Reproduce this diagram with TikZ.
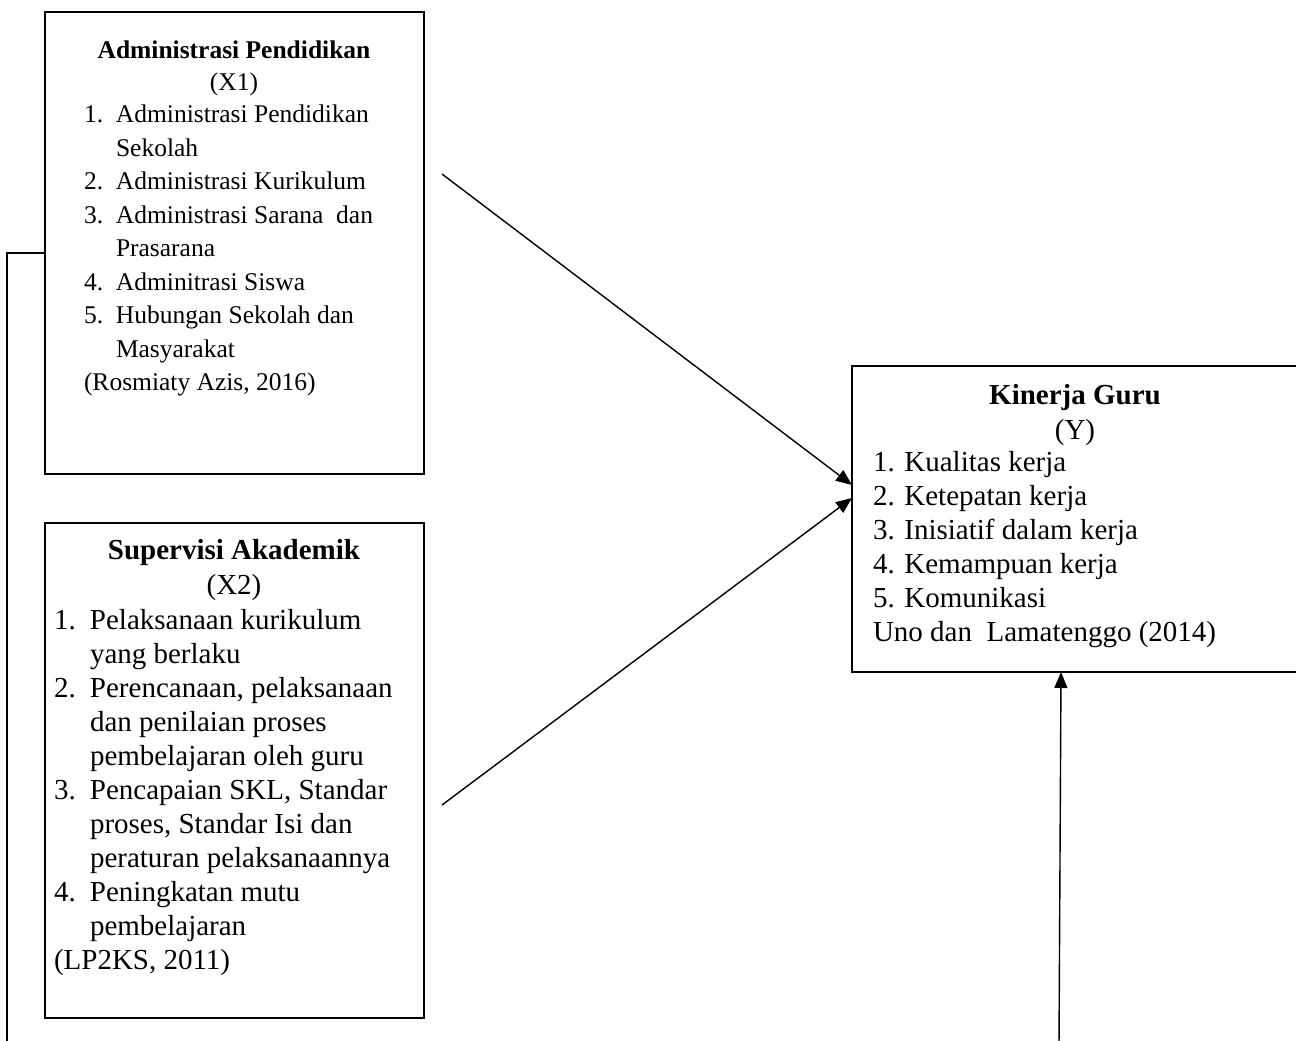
\documentclass[tikz,border=0pt]{standalone}
\usepackage{fontspec}
\setmainfont{Liberation Serif}
\usetikzlibrary{arrows.meta}
\newcommand{\fsA}{\fontsize{25.5}{33.5}\selectfont}
\newcommand{\fsB}{\fontsize{29}{34}\selectfont}
\tikzset{
  boxshape/.style={draw, line width=1.5pt, rectangle, inner sep=0pt, outer sep=0pt},
  txt/.style={inner sep=0pt, outer sep=0pt},
  conn/.style={line width=1.4pt},
  arr/.style={conn, -{Triangle[length=16pt,width=13pt]}}
}
\begin{document}
\begin{tikzpicture}[x=1pt,y=-1pt]
\useasboundingbox (0,0) rectangle (1296,1041);
\clip (0,0) rectangle (1296,1041);
\fill[white] (0,0) rectangle (1296,1041);

% boxes
\node[boxshape, minimum width=379pt, minimum height=462pt] (box1) at (234.5,243) {};
\node[boxshape, minimum width=379pt, minimum height=495pt] (box2) at (234.5,770.5) {};
\node[boxshape, minimum width=460pt, minimum height=306pt] (ybox) at (1082,519) {};

% box 1 text
\node[txt, anchor=base, font=\fsA] (t1) at (234,58.5) {\textbf{Administrasi Pendidikan}};
\node[txt, anchor=base, font=\fsA] (t1x) at (234,90.5) {(X1)};
\node[txt, anchor=north west, align=left, font=\fsA] (l1) at (84,99.05) {%
\strut\makebox[32pt][l]{1.}Administrasi Pendidikan\\
\hspace*{32pt}Sekolah\\
\makebox[32pt][l]{2.}Administrasi Kurikulum\\
\makebox[32pt][l]{3.}Administrasi Sarana\ \ dan\\
\hspace*{32pt}Prasarana\\
\makebox[32pt][l]{4.}Adminitrasi Siswa\\
\makebox[32pt][l]{5.}Hubungan Sekolah dan\\
\hspace*{32pt}Masyarakat\\
(Rosmiaty Azis, 2016)};

% box 2 text
\node[txt, anchor=base, font=\fsB] (t2) at (234,559.6) {\textbf{Supervisi Akademik}};
\node[txt, anchor=base, font=\fsB] (t2x) at (234,594.6) {(X2)};
\node[txt, anchor=north west, align=left, font=\fsB] (l2) at (54,605.8) {%
\strut\makebox[36pt][l]{1.}Pelaksanaan kurikulum\\
\hspace*{36pt}yang berlaku\\
\makebox[36pt][l]{2.}Perencanaan, pelaksanaan\\
\hspace*{36pt}dan penilaian proses\\
\hspace*{36pt}pembelajaran oleh guru\\
\makebox[36pt][l]{3.}Pencapaian SKL, Standar\\
\hspace*{36pt}proses, Standar Isi dan\\
\hspace*{36pt}peraturan pelaksanaannya\\
\makebox[36pt][l]{4.}Peningkatan mutu\\
\hspace*{36pt}pembelajaran\\
(LP2KS, 2011)};

% Y box text
\node[txt, anchor=base, font=\fsB] (ty) at (1075,404.6) {\textbf{Kinerja Guru}};
\node[txt, anchor=base, font=\fsB] (tyx) at (1075,439.6) {(Y)};
\node[txt, anchor=north west, align=left, font=\fsB] (ly) at (873,447.8) {%
\strut 1. Kualitas kerja\\
2. Ketepatan kerja\\
3. Inisiatif dalam kerja\\
4. Kemampuan kerja\\
5. Komunikasi\\
Uno dan\ \ Lamatenggo (2014)};

% connector end points
\coordinate (a1s) at (442,174);
\coordinate (a2s) at (442,805);
\coordinate (yin1) at (852,485);
\coordinate (yin2) at (852,498);
\coordinate (b1w) at (45,253);
\coordinate (lbot) at (7,1046);
\coordinate (bst) at (1059,1046);
\coordinate (yin3) at (1061,672);

% connectors
\draw[arr] (a1s) -- (yin1);
\draw[arr] (a2s) -- (yin2);
\draw[arr] (bst) -- (yin3);
\draw[conn] (b1w) -| (lbot);
\end{tikzpicture}
\end{document}
